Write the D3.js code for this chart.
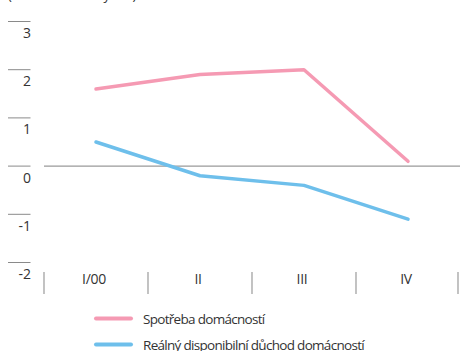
<!DOCTYPE html>
<html>
<head>
<meta charset="utf-8">
<script src="https://cdn.jsdelivr.net/npm/d3@7"></script>
<style>
  html, body { margin: 0; padding: 0; background: #fff; }
  svg text { font-family: "Open Sans", "Noto Sans", sans-serif; fill: #333; }
</style>
</head>
<body>
<svg id="chart" width="462" height="351"></svg>
<script>
// Quarterly data (year-on-year changes, %)
const categories = ["I/00", "II", "III", "IV"];
const consumption = [1.6, 1.9, 2.0, 0.1];
const disposableIncome = [0.5, -0.2, -0.4, -1.1];
const yTicks = [3, 2, 1, 0, -1, -2];
const seriesNames = ["Spotřeba domácností", "Reálný disponibilní důchod domácností"];
const seriesColors = ["#f59ab3", "#6ebfeb"];

const svg = d3.select("#chart");

const x = d3.scaleBand().domain(categories).range([44, 460]);
const y = d3.scaleLinear().domain([-2, 3]).range([262.5, 21.5]);

// Unit caption, clipped at the top edge
svg.append("text")
  .attr("x", 8).attr("y", -0.5)
  .attr("font-size", 13)
  .attr("letter-spacing", -0.3)
  .text("(meziroční změny v %)");

// Y ticks: short rule above each label
const yAxis = svg.append("g");
yTicks.forEach(t => {
  yAxis.append("line")
    .attr("x1", 8).attr("x2", 30.5)
    .attr("y1", y(t)).attr("y2", y(t))
    .attr("stroke", "#8a8a8a").attr("stroke-width", 1);
  yAxis.append("text")
    .attr("x", 31).attr("y", y(t) + 16.5)
    .attr("text-anchor", "end")
    .attr("font-size", 14)
    .text(t);
});

// Zero line
svg.append("line")
  .attr("x1", 44).attr("x2", 460)
  .attr("y1", y(0)).attr("y2", y(0))
  .attr("stroke", "#9a9a9a").attr("stroke-width", 1.2);

// Category separators and labels
const bounds = categories.map(c => x(c)).concat([x.range()[1] - 2]);
bounds.forEach(b => {
  svg.append("line")
    .attr("x1", b).attr("x2", b)
    .attr("y1", 272).attr("y2", 294)
    .attr("stroke", "#9a9a9a").attr("stroke-width", 1.2);
});
categories.forEach(c => {
  svg.append("text")
    .attr("x", x(c) + x.bandwidth() / 2 - 2)
    .attr("y", 284)
    .attr("text-anchor", "middle")
    .attr("font-size", 14)
    .attr("letter-spacing", -0.3)
    .text(c);
});

// Series lines
const line = d3.line()
  .x((d, i) => x(categories[i]) + x.bandwidth() / 2)
  .y(d => y(d));

[consumption, disposableIncome].forEach((s, i) => {
  svg.append("path")
    .datum(s)
    .attr("d", line)
    .attr("fill", "none")
    .attr("stroke", seriesColors[i])
    .attr("stroke-width", 3.5)
    .attr("stroke-linejoin", "round")
    .attr("stroke-linecap", "round");
});

// Legend
seriesNames.forEach((name, i) => {
  const ly = 318.5 + i * 26;
  svg.append("line")
    .attr("x1", 96).attr("x2", 131)
    .attr("y1", ly).attr("y2", ly)
    .attr("stroke", seriesColors[i])
    .attr("stroke-width", 4)
    .attr("stroke-linecap", "round");
  svg.append("text")
    .attr("x", 143).attr("y", ly + 5)
    .attr("font-size", 13.5)
    .attr("letter-spacing", -0.7)
    .text(name);
});
</script>
</body>
</html>
